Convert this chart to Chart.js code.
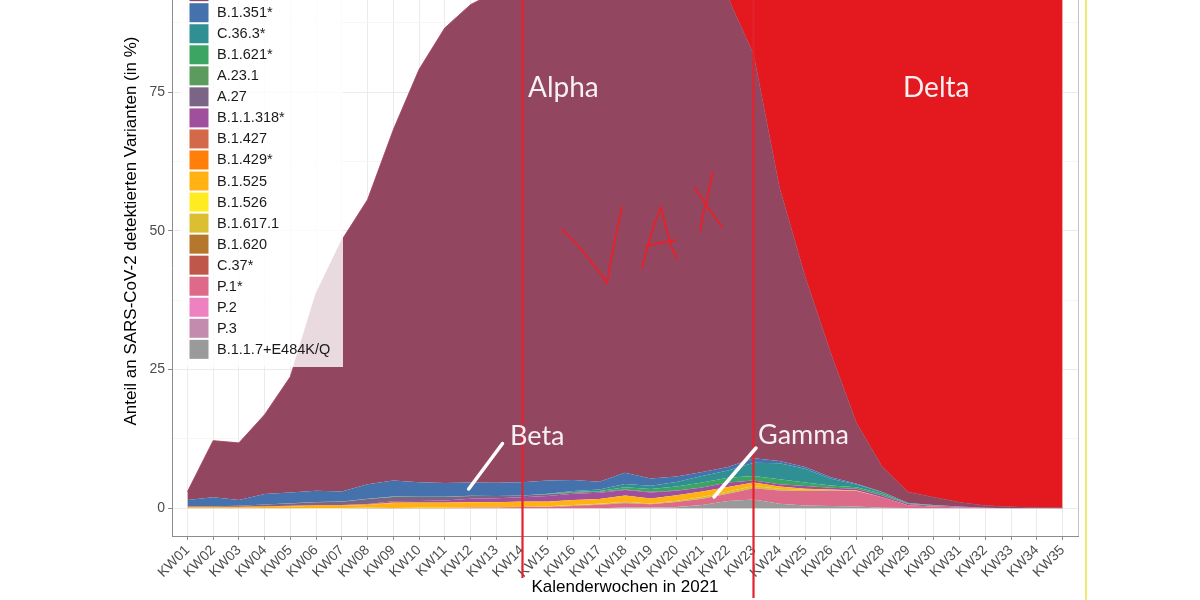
<!DOCTYPE html>
<html><head><meta charset="utf-8">
<script src="https://cdn.jsdelivr.net/npm/chart.js@4.4.1/dist/chart.umd.min.js"></script>
<style>html,body{margin:0;padding:0;background:#fff;overflow:hidden}</style>
</head><body>
<canvas id="c" width="1200" height="600" style="width:1200px;height:600px;display:block"></canvas>
<script>
// ---------- DATA ----------
const weeks = ["KW01","KW02","KW03","KW04","KW05","KW06","KW07","KW08","KW09","KW10",
  "KW11","KW12","KW13","KW14","KW15","KW16","KW17","KW18","KW19","KW20",
  "KW21","KW22","KW23","KW24","KW25","KW26","KW27","KW28","KW29","KW30",
  "KW31","KW32","KW33","KW34","KW35"];
const yTickValues = [0, 12.5, 25, 37.5, 50, 62.5, 75, 87.5];
const yTickLabels = ["0", "", "25", "", "50", "", "75", ""];

// series listed from the bottom of the stack to the top
const seriesNames = ["B.1.1.7+E484K/Q","P.3","P.2","P.1*","C.37*","B.1.620","B.1.617.1","B.1.526",
  "B.1.525","B.1.429*","B.1.427","B.1.1.318*","A.27","A.23.1","B.1.621*","C.36.3*","B.1.351*",
  "B.1.1.7","B.1.617.2"];

const e484k  = [0,0,0,0,0,0,0,0,0,0,0,0,0,0,0,0,0,0.1,0.1,0.2,0.6,1.3,1.6,0.8,0.5,0.4,0.3,0.1,0.05,0,0,0,0,0,0];
const p3     = [0,0,0,0,0,0,0,0,0,0.02,0.02,0.02,0.02,0.02,0.02,0.02,0.02,0.02,0.02,0.02,0,0,0,0,0,0,0,0,0,0,0,0,0,0,0];
const p2     = [0.02,0.02,0.02,0.02,0.02,0.02,0.02,0.02,0,0,0,0,0,0,0,0,0,0,0,0,0,0,0,0,0,0,0,0,0,0,0,0,0,0,0];
const p1     = [0,0,0,0,0,0,0,0,0,0,0,0.1,0.1,0.2,0.2,0.4,0.6,0.8,0.6,0.9,1.1,1.3,2.0,2.4,2.6,2.8,2.8,1.9,0.5,0.3,0.15,0.05,0,0,0];
const c37    = [0,0,0,0,0,0,0,0,0,0,0,0,0,0,0.02,0.02,0.02,0.02,0.02,0.02,0.02,0.02,0.02,0.02,0.02,0,0,0,0,0,0,0,0,0,0];
const b1620  = [0,0,0,0,0,0,0,0.03,0.03,0.03,0.03,0.03,0.03,0.03,0.03,0.03,0.03,0.03,0,0,0,0,0,0,0,0,0,0,0,0,0,0,0,0,0];
const b16171 = [0,0,0,0,0,0,0,0,0,0,0,0,0,0,0.05,0.1,0.1,0.2,0.1,0.2,0.3,0.4,0.4,0.3,0.2,0.1,0.05,0,0,0,0,0,0,0,0];
const b1526  = [0,0,0,0,0,0.02,0.02,0.02,0.02,0.02,0.02,0.02,0.02,0.02,0.02,0.02,0.02,0.02,0.02,0.02,0,0,0,0,0,0,0,0,0,0,0,0,0,0,0];
const b1525  = [0.1,0.1,0.1,0.2,0.3,0.4,0.4,0.5,0.9,0.9,0.9,0.9,0.9,0.9,0.85,0.9,0.9,1.1,0.9,1.0,1.0,0.8,0.6,0.4,0.2,0.1,0.05,0,0,0,0,0,0,0,0];
const b1429  = [0.1,0.1,0.1,0.1,0.1,0.1,0.1,0.1,0.1,0.05,0.05,0.04,0.03,0.03,0.03,0.02,0,0,0,0,0,0,0,0,0,0,0,0,0,0,0,0,0,0,0];
const b1427  = [0.05,0.05,0.05,0.05,0.05,0.05,0.05,0.05,0,0,0,0,0,0,0,0,0,0,0,0,0,0,0,0,0,0,0,0,0,0,0,0,0,0,0];
const b11318 = [0,0,0,0,0,0,0,0.05,0.2,0.3,0.4,0.6,0.7,0.8,1.0,1.1,1.1,1.0,1.1,0.8,0.7,0.8,0.4,0.4,0.5,0.3,0.3,0.3,0.2,0.15,0.1,0.05,0,0,0];
const a27    = [0.1,0.1,0.2,0.3,0.4,0.5,0.6,0.9,0.8,0.7,0.6,0.5,0.4,0.3,0.3,0.2,0.2,0.1,0.1,0.05,0,0,0,0,0,0,0,0,0,0,0,0,0,0,0];
const a231   = [0,0,0,0,0.05,0.05,0.05,0.05,0.05,0.05,0.05,0.05,0,0,0,0,0,0,0,0,0,0,0,0,0,0,0,0,0,0,0,0,0,0,0];
const b1621  = [0,0,0,0,0,0,0,0,0,0,0,0,0,0,0.05,0.1,0.1,0.4,0.5,0.7,0.9,0.9,0.8,0.9,0.6,0.4,0.3,0.3,0.1,0.05,0,0,0,0,0];
const c363   = [0,0,0,0,0,0,0,0,0,0,0,0,0,0,0.05,0.2,0.3,0.6,0.6,0.8,1.2,1.3,2.4,2.9,2.5,1.2,0.5,0.3,0.1,0.05,0,0,0,0,0];
const b1351  = [1.1,1.6,1.0,1.9,1.9,2.0,1.8,2.6,2.9,2.6,2.5,2.4,2.4,2.4,2.4,2.0,1.4,2.0,1.3,1.0,0.7,0.6,0.8,0.4,0.3,0.3,0.1,0.05,0,0.05,0.05,0,0,0,0];
const alpha  = [1.5,10.2,10.3,14.3,20.9,35.6,45.3,51.3,63.2,74.4,82.0,86.1,88.5,89.4,90.1,90.0,90.3,88.7,89.7,89.4,87.5,84.6,72.7,49.4,34.3,22.3,10.9,4.5,2.0,1.4,0.8,0.4,0.25,0.15,0.1];
const delta  = [0,0,0,0,0,0,0,0,0,0,0,0,0,0.1,0.1,0.2,0.3,0.5,0.8,1.3,2.2,6.2,15.4,37.3,54.2,67.5,83.2,90.7,97.1,98.6,98.9,99.5,99.7,99.8,99.9];

const seriesValues = [e484k,p3,p2,p1,c37,b1620,b16171,b1526,b1525,b1429,b1427,b11318,a27,a231,b1621,c363,b1351,alpha,delta];

// ---------- STYLE ----------
const seriesColors = ["#9a9a9a","#c38cae","#ee82c0","#dd6a88","#bf574a","#b5772c","#dbbf30","#ffeb22",
  "#ffb212","#ff7f0a","#d4694a","#a04f9c","#7b6586","#5b9b5e","#3ca564","#308f93","#4571ad",
  "#93465f","#e4191f"];

Chart.defaults.font.family = "'Liberation Sans', Arial, sans-serif";

const datasets = seriesNames.map((name, i) => ({
  label: name,
  data: seriesValues[i].map((v, k) => ({x: k, y: v})),
  backgroundColor: seriesColors[i],
  borderColor: (i >= 17) ? seriesColors[i] : 'rgba(0,0,0,0)',
  borderWidth: (i >= 17) ? 0.6 : 0,
  fill: i === 0 ? 'origin' : '-1',
  pointRadius: 0,
  tension: 0
}));

const overlay = {
  id: 'overlay',
  afterDraw(chart) {
    const ctx = chart.ctx;
    const ca = chart.chartArea;
    ctx.save();
    // panel right border
    ctx.strokeStyle = '#c4c4c4'; ctx.lineWidth = 1;
    ctx.beginPath(); ctx.moveTo(ca.right + 0.5, 0); ctx.lineTo(ca.right + 0.5, ca.bottom); ctx.stroke();

    // y axis title (centred on the full, partly cropped panel)
    ctx.save();
    ctx.translate(131, 231); ctx.rotate(-Math.PI / 2);
    ctx.fillStyle = '#000'; ctx.textAlign = 'center'; ctx.textBaseline = 'middle';
    ctx.font = "17px 'Liberation Sans', Arial, sans-serif";
    ctx.fillText('Anteil an SARS-CoV-2 detektierten Varianten (in %)', 0, 0);
    ctx.restore();

    // legend (ggplot style, overlaid)
    ctx.fillStyle = 'rgba(255,255,255,0.8)';
    ctx.fillRect(180, -5, 163, 372);
    const ordered = seriesNames.map((n, i) => i).reverse();
    ctx.font = "14.5px 'Liberation Sans', Arial, sans-serif";
    ctx.textBaseline = 'middle'; ctx.textAlign = 'left';
    ordered.forEach((si, k) => {
      const cy = 12.7 + (k - 2) * 21.04;
      ctx.fillStyle = seriesColors[si];
      ctx.fillRect(189.5, cy - 9.5, 19, 19);
      ctx.fillStyle = '#1a1a1a';
      ctx.fillText(seriesNames[si], 217, cy + 0.5);
    });

    // red vertical lines
    ctx.strokeStyle = '#e5222b'; ctx.lineWidth = 2.2;
    ctx.beginPath(); ctx.moveTo(522.5, 0); ctx.lineTo(522.5, 578); ctx.stroke();
    ctx.beginPath(); ctx.moveTo(753.5, 0); ctx.lineTo(753.5, 598); ctx.stroke();

    // white pointer lines
    ctx.strokeStyle = '#ffffff'; ctx.lineWidth = 3.5; ctx.lineCap = 'round';
    ctx.beginPath(); ctx.moveTo(468.7, 489); ctx.lineTo(502.5, 443.5); ctx.stroke();
    ctx.beginPath(); ctx.moveTo(714, 497); ctx.lineTo(756, 448); ctx.stroke();

    // labels
    ctx.fillStyle = '#f6f0f2'; ctx.textBaseline = 'alphabetic';
    ctx.font = "28px Lato, 'Open Sans', sans-serif";
    ctx.fillText('Alpha', 528, 97);
    ctx.fillText('Delta', 903, 97);
    ctx.font = "27px Lato, 'Open Sans', sans-serif";
    ctx.fillText('Beta', 510, 445);
    ctx.fillText('Gamma', 758, 444);

    // handwritten VAX
    ctx.strokeStyle = '#e8202a'; ctx.lineWidth = 1.8; ctx.lineJoin = 'round';
    const strokes = [
      [[562,229],[580,248],[596,268],[607,283]],
      [[607,283],[612,255],[617,230],[622,207]],
      [[642,268],[648,245],[655,222],[661,207]],
      [[661,207],[666,228],[672,248],[677,258]],
      [[646,246],[660,243],[676,240]],
      [[695,188],[705,203],[714,216],[722,227]],
      [[713,172],[709,190],[704,210],[700,231]]
    ];
    strokes.forEach(s => {
      ctx.beginPath(); ctx.moveTo(s[0][0], s[0][1]);
      for (let i = 1; i < s.length; i++) ctx.lineTo(s[i][0], s[i][1]);
      ctx.stroke();
    });

    // yellow edge line
    ctx.strokeStyle = '#efeb6e'; ctx.lineWidth = 2;
    ctx.beginPath(); ctx.moveTo(1086, 0); ctx.lineTo(1086, 600); ctx.stroke();
    ctx.restore();
  }
};

new Chart(document.getElementById('c'), {
  type: 'line',
  data: { datasets },
  plugins: [overlay],
  options: {
    responsive: false,
    animation: false,
    events: [],
    layout: { padding: { left: 118, right: 122, top: 0, bottom: 0 } },
    plugins: { legend: { display: false }, tooltip: { enabled: false } },
    scales: {
      x: {
        type: 'linear', min: -0.6, max: 34.6,
        afterBuildTicks: s => { s.ticks = weeks.map((w, i) => ({ value: i })); },
        afterFit: s => { s.height = 64; s.paddingLeft = 0; s.paddingRight = 0; },
        ticks: {
          callback: v => weeks[v], autoSkip: false, minRotation: 45, maxRotation: 45,
          color: '#4d4d4d', font: { size: 14 }, padding: 2
        },
        grid: { color: '#ebebeb', tickLength: 4, tickColor: '#8c8c8c' },
        border: { color: '#8c8c8c', width: 1 },
        title: { display: true, text: 'Kalenderwochen in 2021', color: '#000', font: { size: 17 }, padding: { top: 0, bottom: 2 } }
      },
      y: {
        stacked: true, min: -5, max: 91.6,
        afterBuildTicks: s => { s.ticks = yTickValues.map(v => ({ value: v })); },
        afterFit: s => { s.width = 54; s.paddingTop = 0; s.paddingBottom = 0; },
        ticks: {
          callback: (v) => { const i = yTickValues.indexOf(v); return i >= 0 ? yTickLabels[i] : ''; },
          color: '#4d4d4d', font: { size: 14 }, padding: 3
        },
        grid: {
          color: c => (c.tick && c.tick.value % 25 === 0) ? '#ebebeb' : '#f5f5f5',
          tickColor: c => (c.tick && c.tick.value % 25 === 0) ? '#8c8c8c' : 'rgba(0,0,0,0)',
          tickLength: 4
        },
        border: { color: '#8c8c8c', width: 1 },
        title: { display: false }
      }
    }
  }
});
</script>
</body></html>
